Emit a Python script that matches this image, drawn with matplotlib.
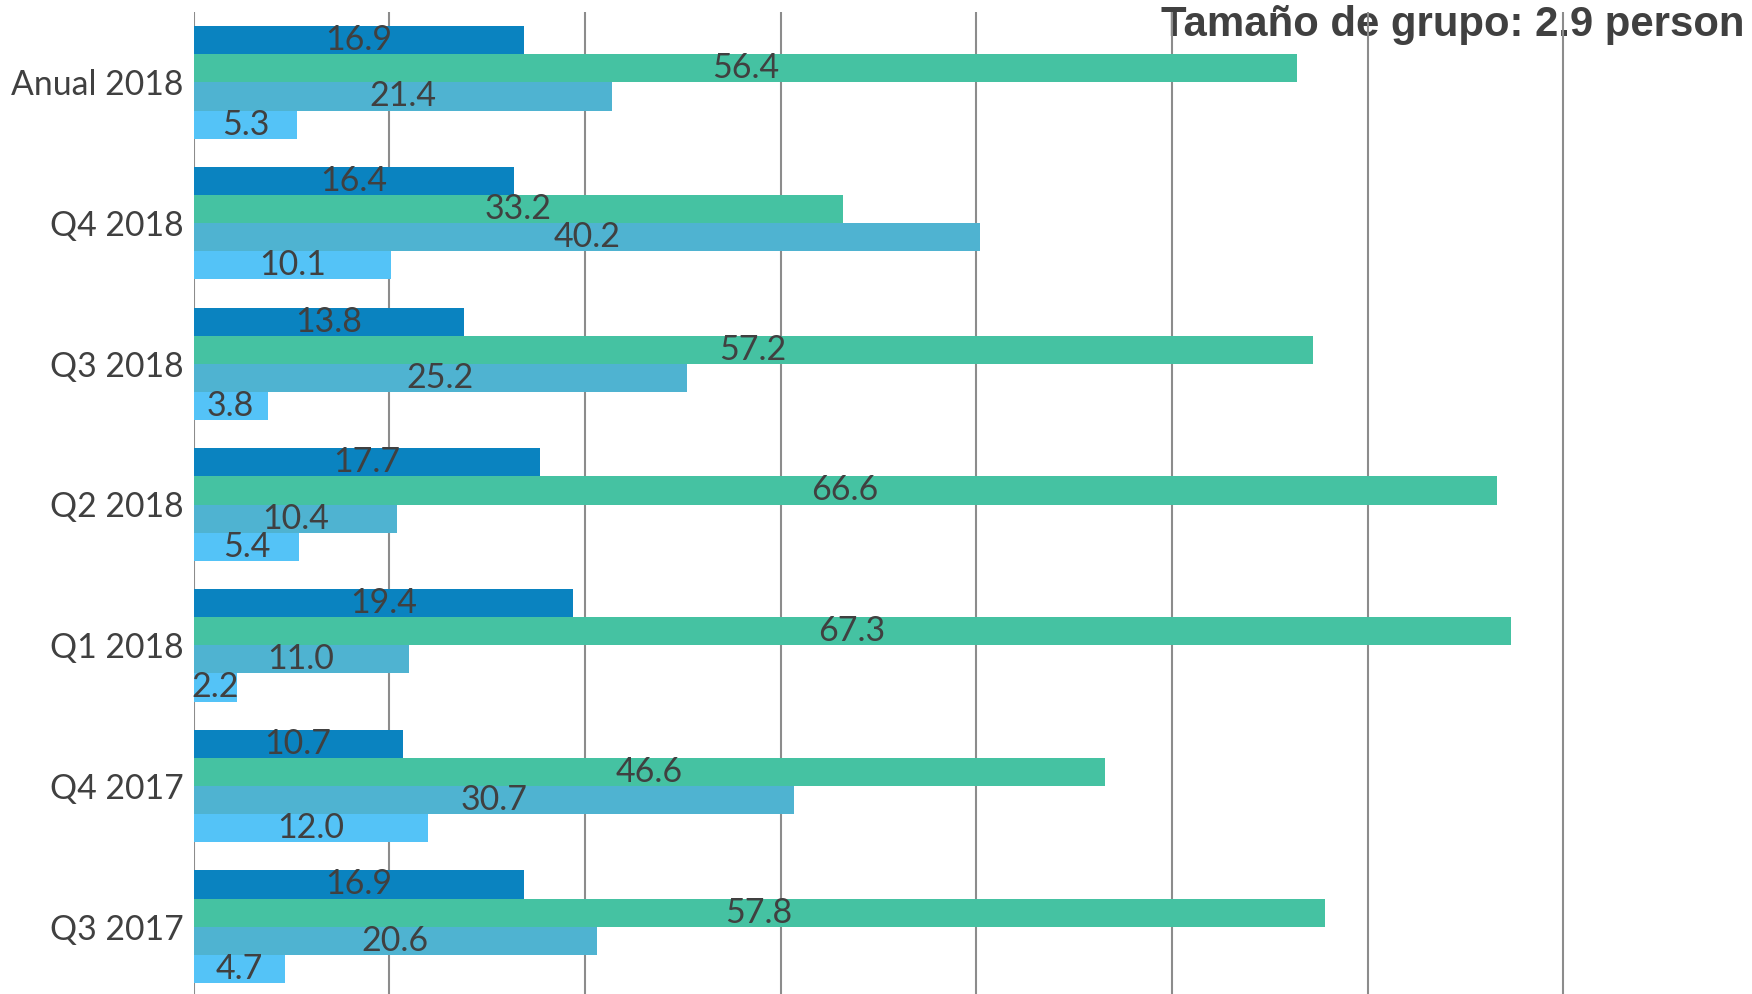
import matplotlib.pyplot as plt
import numpy as np

categorias = ['Anual 2018', 'Q4 2018', 'Q3 2018', 'Q2 2018', 'Q1 2018', 'Q4 2017', 'Q3 2017']
serie1 = [16.9, 16.4, 13.8, 17.7, 19.4, 10.7, 16.9]
serie2 = [56.4, 33.2, 57.2, 66.6, 67.3, 46.6, 57.8]
serie3 = [21.4, 40.2, 25.2, 10.4, 11.0, 30.7, 20.6]
serie4 = [5.3, 10.1, 3.8, 5.4, 2.2, 12.0, 4.7]
titulo = 'Tamaño de grupo: 2.9 person'

series = [serie1, serie2, serie3, serie4]
colores = ['#0a83c0', '#45c2a2', '#4fb3d1', '#54c3f7']
texto = '#404040'

W, H = 1752, 994
fig = plt.figure(figsize=(W/100, H/100), dpi=100)
ax = fig.add_axes([193.5/W, -3/H, 1 - 193.5/W, 1 - 9/H])

y = np.arange(len(categorias))
alto = 0.2
for k, s in enumerate(series):
    pos = y - 0.3 + k*alto
    ax.barh(pos, s, height=alto, color=colores[k], zorder=2)
    for p, v in zip(pos, s):
        ax.text(v/2, p, '%.1f' % v, ha='center', va='center', fontsize=24.5,
                family='Lato', color=texto, zorder=3)

ax.set_xlim(0, (W - 193.5)/19.57)
ax.set_ylim(len(categorias) - 0.5, -0.5)
ax.set_xticks(np.arange(0, 80, 10))
ax.set_xticklabels([])
ax.set_yticks(y)
ax.set_yticklabels(categorias, fontsize=24.3, family='Lato', color=texto)
ax.tick_params(length=0, pad=7)
ax.grid(axis='x', color='#8c8c8c', linewidth=1.5, zorder=1)
ax.grid(axis='y', visible=False)
for sp in ax.spines.values():
    sp.set_visible(False)

# titulo detras de las lineas de la grilla
ax.text(1161/W, 1 - 36/H, titulo, ha='left', va='baseline', fontsize=30.2,
        fontweight='bold', family='Liberation Sans', color=texto,
        transform=fig.transFigure, clip_on=False, zorder=0.5)

plt.savefig('out.png', dpi=100)
